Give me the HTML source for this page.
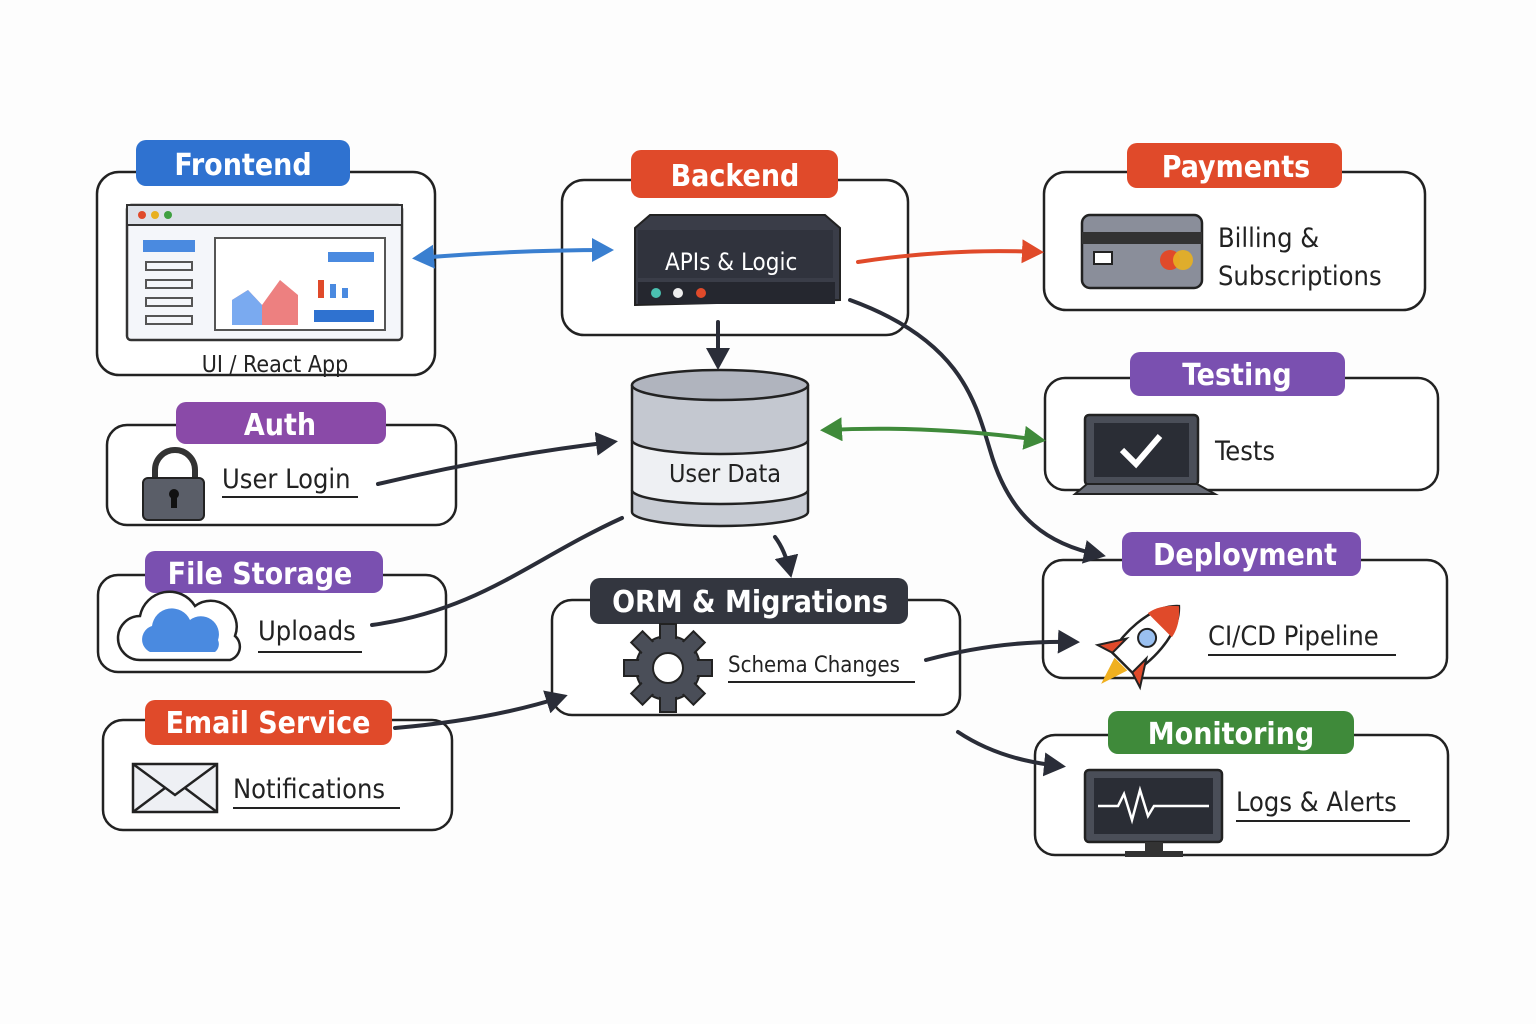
<!DOCTYPE html>
<html><head><meta charset="utf-8"><style>
html,body{margin:0;padding:0;background:#fdfdfd;}
svg{display:block}
text{font-family:"DejaVu Sans Condensed","Liberation Sans",sans-serif;}
.lbl{fill:#fff;font-size:30px;font-weight:bold;text-anchor:middle}
.t{fill:#222;font-size:27px}
.box{fill:#fff;stroke:#222;stroke-width:2.5}
.ar{fill:none;stroke-width:4;stroke-linecap:round}
</style></head><body>
<svg width="1536" height="1024" viewBox="0 0 1536 1024">
<defs>
<marker id="mk" markerWidth="6" markerHeight="6" refX="4" refY="3" orient="auto" markerUnits="strokeWidth"><path d="M0,0 L5.5,3 L0,6 z" fill="#2a2d38"/></marker>
<marker id="mb" markerWidth="6" markerHeight="6" refX="4" refY="3" orient="auto-start-reverse" markerUnits="strokeWidth"><path d="M0,0 L5.5,3 L0,6 z" fill="#3a7fd0"/></marker>
<marker id="mr" markerWidth="6" markerHeight="6" refX="4" refY="3" orient="auto" markerUnits="strokeWidth"><path d="M0,0 L5.5,3 L0,6 z" fill="#e04a2a"/></marker>
<marker id="mg" markerWidth="6" markerHeight="6" refX="4" refY="3" orient="auto-start-reverse" markerUnits="strokeWidth"><path d="M0,0 L5.5,3 L0,6 z" fill="#3f8a3a"/></marker>
</defs>

<rect class="box" x="97" y="172" width="338" height="203" rx="22"/>
<rect class="box" x="562" y="180" width="346" height="155" rx="22"/>
<rect class="box" x="1044" y="172" width="381" height="138" rx="22"/>
<rect class="box" x="107" y="425" width="349" height="100" rx="20"/>
<rect class="box" x="1045" y="378" width="393" height="112" rx="20"/>
<rect class="box" x="98" y="575" width="348" height="97" rx="20"/>
<rect class="box" x="552" y="600" width="408" height="115" rx="20"/>
<rect class="box" x="1043" y="560" width="404" height="118" rx="20"/>
<rect class="box" x="103" y="720" width="349" height="110" rx="20"/>
<rect class="box" x="1035" y="735" width="413" height="120" rx="20"/>

<rect x="136" y="140" width="214" height="46" rx="10" fill="#2f72d0"/><text class="lbl" x="243" y="175">Frontend</text>
<rect x="631" y="150" width="207" height="48" rx="10" fill="#e04a2a"/><text class="lbl" x="735" y="186">Backend</text>
<rect x="1127" y="143" width="215" height="45" rx="10" fill="#e04a2a"/><text class="lbl" x="1236" y="177">Payments</text>
<rect x="176" y="402" width="210" height="42" rx="10" fill="#8a4aa8"/><text class="lbl" x="280" y="435">Auth</text>
<rect x="1130" y="352" width="215" height="44" rx="10" fill="#7a50b0"/><text class="lbl" x="1237" y="385">Testing</text>
<rect x="145" y="551" width="238" height="42" rx="10" fill="#7a50b0"/><text class="lbl" x="260" y="584">File Storage</text>
<rect x="590" y="578" width="318" height="46" rx="10" fill="#33363f"/><text class="lbl" x="750" y="612">ORM &amp; Migrations</text>
<rect x="1122" y="532" width="239" height="44" rx="10" fill="#7a50b0"/><text class="lbl" x="1245" y="565">Deployment</text>
<rect x="145" y="700" width="247" height="45" rx="10" fill="#e04a2a"/><text class="lbl" x="268" y="733">Email Service</text>
<rect x="1108" y="711" width="246" height="43" rx="10" fill="#3f8a3a"/><text class="lbl" x="1231" y="744">Monitoring</text>

<rect x="127" y="205" width="275" height="135" rx="4" fill="#f4f6fa" stroke="#333" stroke-width="2.5"/>
<rect x="127" y="205" width="275" height="20" fill="#dde1e8" stroke="#333" stroke-width="2"/>
<circle cx="142" cy="215" r="4" fill="#e04a2a"/><circle cx="155" cy="215" r="4" fill="#e8b020"/><circle cx="168" cy="215" r="4" fill="#3fa040"/>
<rect x="143" y="240" width="52" height="12" fill="#4a8ae0"/>
<rect x="146" y="262" width="46" height="8" fill="none" stroke="#555" stroke-width="2"/><rect x="146" y="280" width="46" height="8" fill="none" stroke="#555" stroke-width="2"/><rect x="146" y="298" width="46" height="8" fill="none" stroke="#555" stroke-width="2"/><rect x="146" y="316" width="46" height="8" fill="none" stroke="#555" stroke-width="2"/>
<rect x="215" y="238" width="170" height="92" fill="#fff" stroke="#555" stroke-width="2"/>
<path d="M232,325 L232,300 L248,290 L262,305 L280,280 L298,295 L298,325 z" fill="#e86060" opacity=".8"/>
<path d="M232,325 L232,300 L248,290 L262,305 L262,325z" fill="#7aaaf0"/>
<rect x="328" y="252" width="46" height="10" fill="#4a8ae0"/>
<rect x="318" y="280" width="6" height="18" fill="#e04a2a"/><rect x="330" y="284" width="6" height="14" fill="#4a8ae0"/><rect x="342" y="288" width="6" height="10" fill="#4a8ae0"/>
<rect x="314" y="310" width="60" height="12" fill="#2f72d0"/>
<text class="t" x="275" y="372" text-anchor="middle" style="font-size:23px">UI / React App</text>

<path d="M650,215 L825,215 L840,228 L840,300 L635,305 L635,228z" fill="#3a3d48" stroke="#222" stroke-width="2"/>
<rect x="638" y="230" width="195" height="48" fill="#30333d"/>
<rect x="638" y="282" width="197" height="22" fill="#25272f"/>
<circle cx="656" cy="293" r="5" fill="#4ac0b0"/><circle cx="678" cy="293" r="5" fill="#eee"/><circle cx="701" cy="293" r="5" fill="#e04a2a"/>
<text x="665" y="270" fill="#fff" style="font-size:24px">APIs &amp; Logic</text>

<rect x="1082" y="215" width="120" height="73" rx="8" fill="#8a8e9a" stroke="#222" stroke-width="2.5"/>
<rect x="1082" y="232" width="120" height="12" fill="#333"/>
<rect x="1094" y="252" width="18" height="12" fill="#fff" stroke="#222" stroke-width="2"/>
<circle cx="1170" cy="260" r="10" fill="#e04a2a"/><circle cx="1183" cy="260" r="10" fill="#e8b020" opacity=".9"/>
<text class="t" x="1218" y="247">Billing &amp;</text><text class="t" x="1218" y="285">Subscriptions</text>

<path d="M155,478 v-8 a20,20 0 0 1 40,0 v8" fill="none" stroke="#333" stroke-width="6"/>
<rect x="143" y="478" width="61" height="42" rx="5" fill="#5a5e68" stroke="#222" stroke-width="2"/>
<circle cx="174" cy="494" r="5" fill="#111"/><rect x="171" y="494" width="6" height="14" fill="#111"/>
<text class="t" x="222" y="488">User Login</text>
<line x1="222" y1="497" x2="358" y2="497" stroke="#222" stroke-width="2"/>

<g stroke="#222" stroke-width="2.5">
<path d="M632,490 v22 a88,14 0 0 0 176,0 v-22" fill="#c8ccd4"/>
<path d="M632,440 v50 a88,14 0 0 0 176,0 v-50" fill="#eef0f3"/>
<path d="M632,385 v55 a88,14 0 0 0 176,0 v-55" fill="#c4c8d0"/>
<ellipse cx="720" cy="385" rx="88" ry="15" fill="#b0b4be"/>
</g>
<text class="t" x="725" y="482" text-anchor="middle" style="font-size:25px">User Data</text>

<rect x="1085" y="415" width="113" height="70" rx="4" fill="#4a4e58" stroke="#222" stroke-width="2.5"/>
<rect x="1094" y="423" width="95" height="54" fill="#2a2d35"/>
<path d="M1122,450 l14,14 l24,-28" fill="none" stroke="#fff" stroke-width="6"/>
<path d="M1075,494 l12,-10 h110 l18,10z" fill="#6a6e78" stroke="#222" stroke-width="2"/>
<text class="t" x="1215" y="460">Tests</text>

<path d="M140,660 a22,22 0 0 1 0,-44 a30,30 0 0 1 55,-10 a26,26 0 0 1 40,30 a14,14 0 0 1 -5,24z" fill="#fff" stroke="#222" stroke-width="2.5"/>
<path d="M150,652 a14,14 0 0 1 2,-26 a20,20 0 0 1 38,-6 a18,18 0 0 1 28,20 a10,10 0 0 1 -3,12z" fill="#4a8ae0"/>
<text class="t" x="258" y="640">Uploads</text>
<line x1="258" y1="652" x2="362" y2="652" stroke="#222" stroke-width="2"/>

<g transform="translate(668,668)">
<g fill="#4a4e58" stroke="#222" stroke-width="2">
<circle r="32"/>
<rect x="-8" y="-44" width="16" height="88"/><rect x="-44" y="-8" width="88" height="16"/>
<rect x="-8" y="-44" width="16" height="88" transform="rotate(45)"/><rect x="-8" y="-44" width="16" height="88" transform="rotate(-45)"/>
</g>
<circle r="30" fill="#4a4e58"/><circle r="15" fill="#fff" stroke="#222" stroke-width="2"/>
</g>
<text class="t" x="728" y="672" style="font-size:22px">Schema Changes</text>
<line x1="728" y1="682" x2="915" y2="682" stroke="#222" stroke-width="2"/>

<g transform="translate(1140,645) rotate(45)">
<path d="M0,-55 C22,-35 20,10 14,25 h-28 C-20,10 -22,-35 0,-55z" fill="#fff" stroke="#222" stroke-width="2.5"/>
<path d="M0,-55 C12,-45 16,-35 17,-28 h-34 C-16,-35 -12,-45 0,-55z" fill="#e04a2a"/>
<circle cy="-10" r="9" fill="#9ac0f0" stroke="#222" stroke-width="2"/>
<path d="M-14,5 l-16,25 l16,-5z M14,5 l16,25 l-16,-5z" fill="#e04a2a" stroke="#222" stroke-width="2"/>
<path d="M-9,27 L0,55 L9,27z" fill="#f0b020"/>
</g>
<text class="t" x="1208" y="645">CI/CD Pipeline</text>
<line x1="1208" y1="655" x2="1396" y2="655" stroke="#222" stroke-width="2"/>

<rect x="133" y="764" width="84" height="48" fill="#eef0f4" stroke="#222" stroke-width="2.5"/>
<path d="M133,764 L175,795 L217,764 M133,812 L165,788 M217,812 L185,788" fill="none" stroke="#222" stroke-width="2.5"/>
<text class="t" x="233" y="798">Notifications</text>
<line x1="233" y1="808" x2="400" y2="808" stroke="#222" stroke-width="2"/>

<rect x="1085" y="770" width="137" height="72" rx="4" fill="#4a4e58" stroke="#222" stroke-width="2.5"/>
<rect x="1094" y="778" width="119" height="56" fill="#2a2d35"/>
<path d="M1098,806 h20 l6,-12 l8,26 l8,-30 l8,26 l6,-10 h55" fill="none" stroke="#fff" stroke-width="2.5"/>
<rect x="1145" y="842" width="18" height="10" fill="#333"/><rect x="1125" y="851" width="58" height="6" fill="#333"/>
<text class="t" x="1236" y="811">Logs &amp; Alerts</text>
<line x1="1236" y1="821" x2="1410" y2="821" stroke="#222" stroke-width="2"/>

<path class="ar" d="M418,258 Q515,250 608,250" stroke="#3a7fd0" marker-start="url(#mb)" marker-end="url(#mb)"/>
<path class="ar" d="M858,262 Q950,248 1038,252" stroke="#e04a2a" marker-end="url(#mr)"/>
<path class="ar" d="M718,322 L718,364" stroke="#2a2d38" marker-end="url(#mk)"/>
<path class="ar" d="M850,300 C960,340 975,400 990,450 C1010,520 1050,545 1100,555" stroke="#2a2d38" marker-end="url(#mk)"/>
<path class="ar" d="M826,430 Q930,425 1040,440" stroke="#3f8a3a" marker-start="url(#mg)" marker-end="url(#mg)"/>
<path class="ar" d="M378,484 Q500,455 612,442" stroke="#2a2d38" marker-end="url(#mk)"/>
<path class="ar" d="M372,625 C480,610 530,560 622,518" stroke="#2a2d38"/>
<path class="ar" d="M775,537 Q785,550 790,572" stroke="#2a2d38" marker-end="url(#mk)"/>
<path class="ar" d="M395,728 Q490,720 562,697" stroke="#2a2d38" marker-end="url(#mk)"/>
<path class="ar" d="M926,660 Q1000,640 1074,642" stroke="#2a2d38" marker-end="url(#mk)"/>
<path class="ar" d="M958,732 Q1000,760 1060,766" stroke="#2a2d38" marker-end="url(#mk)"/>
</svg>
</body></html>
